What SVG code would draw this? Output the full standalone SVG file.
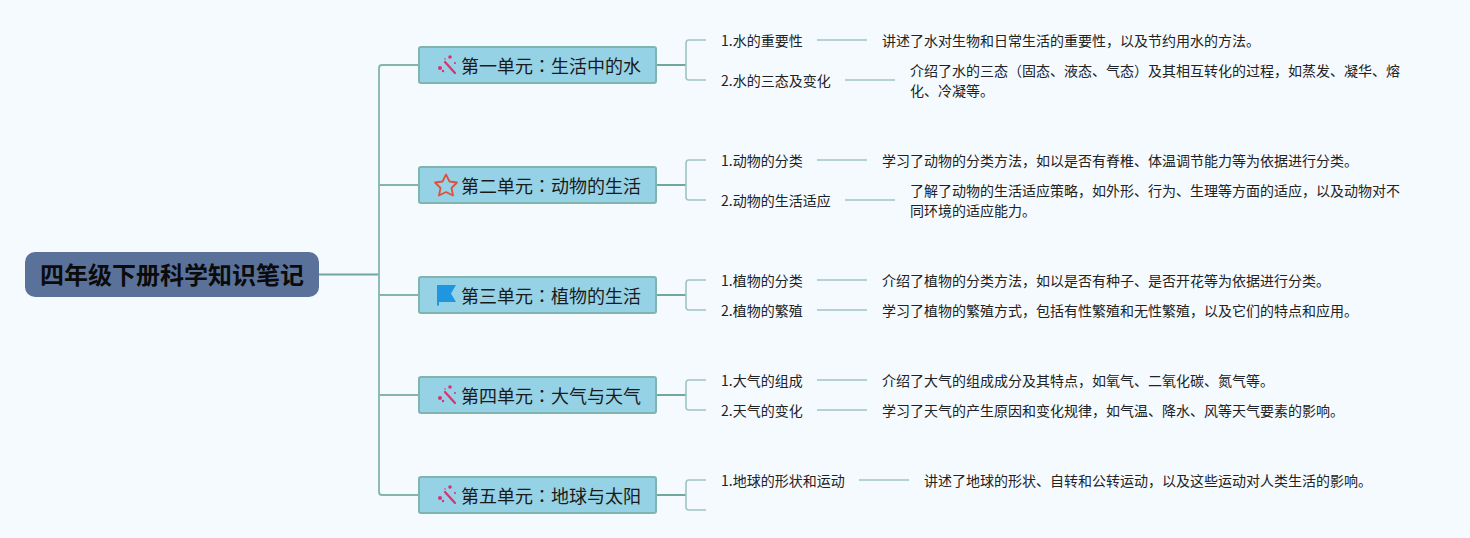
<svg xmlns="http://www.w3.org/2000/svg" width="1470" height="538" viewBox="0 0 1470 538">
<style>
text{font-family:"Noto Sans CJK SC","Noto Sans",sans-serif;fill:#111}
.root{font-size:24px;font-weight:700;fill:#0b0b0b}
.unit{font-size:18px;fill:#1a1a1a}
.colon{font-family:"Noto Sans CJK TC","Noto Sans",sans-serif}
.lab,.desc{font-size:14px;fill:#222}
.u{fill:#96d2e6;stroke:#7fb5ae;stroke-width:2}
.c{fill:none;stroke:#9ec5c0;stroke-width:1.6}
.t{fill:none;stroke:#85b5ab;stroke-width:1.800}
.m{fill:none;stroke:#6fa89c;stroke-width:2}
.w{fill:none;stroke:#d8326f;stroke-width:2.2;stroke-linecap:round}
.d{fill:#d8326f}
</style>
<defs>
<g id="wand"><path class="w" d="M-2 -3L8 8"/><circle class="d" cx="-7" cy="3" r="2"/><circle class="d" cx="-4" cy="6" r="1.2"/><circle class="d" cx="3" cy="-8" r="1.8"/><circle class="d" cx="8" cy="-2" r="1"/><circle class="d" cx="-2" cy="-6" r=".8"/></g>
</defs>
<rect width="1470" height="538" fill="#f5faff"/>
<g id="connectors">
<path class="m" d="M319 274.500H379"/>
<path class="t" d="M419 65H382Q379 65 379 68V492Q379 495 382 495H419M379 185H419M379 295H419M379 395H419"/>
<path class="m" d="M656 65H686M656 185H686M656 295H686M656 395H686M656 495H686"/>
<path class="c" d="M706 40H689Q686 40 686 43V77Q686 80 689 80H706"/>
<path class="c" d="M706 160H689Q686 160 686 163V197Q686 200 689 200H706"/>
<path class="c" d="M706 280H689Q686 280 686 283V307Q686 310 689 310H706"/>
<path class="c" d="M706 380H689Q686 380 686 383V407Q686 410 689 410H706"/>
<path class="c" d="M706 480H689Q686 480 686 483V507Q686 510 689 510H706"/>
<path class="c" d="M817 40H867M845 80H895M817 160H867M845 200H895M817 280H867M817 310H867M817 380H867M817 410H867M859 480H909"/>
</g>
<g id="root"><rect x="25" y="252" width="294" height="45" rx="10" fill="#5a7299"/><text class="root" x="40" y="284">四年级下册科学知识笔记</text></g>
<g id="unit1"><rect class="u" x="419" y="47" width="237" height="36" rx="2"/><use href="#wand" x="447" y="65"/><text class="unit" x="461" y="72.500">第一单元<tspan class="colon">：</tspan>生活中的水</text></g>
<g id="unit2"><rect class="u" x="419" y="167" width="237" height="36" rx="2"/><path d="M446 174.500L449.500 181.500L457 182.500L451.500 188L453 195.500L446 192L439 195.500L440.500 188L435 182.500L442.500 181.500Z" fill="none" stroke="#e0503c" stroke-width="1.800" stroke-linejoin="round"/><text class="unit" x="461" y="192.500">第二单元<tspan class="colon">：</tspan>动物的生活</text></g>
<g id="unit3"><rect class="u" x="419" y="277" width="237" height="36" rx="2"/><path d="M437 285H456L451 293.500L456 302H439V305.500H437Z" fill="#1e96e0"/><text class="unit" x="461" y="302.500">第三单元<tspan class="colon">：</tspan>植物的生活</text></g>
<g id="unit4"><rect class="u" x="419" y="377" width="237" height="36" rx="2"/><use href="#wand" x="447" y="395"/><text class="unit" x="461" y="402.500">第四单元<tspan class="colon">：</tspan>大气与天气</text></g>
<g id="unit5"><rect class="u" x="419" y="477" width="237" height="36" rx="2"/><use href="#wand" x="447" y="495"/><text class="unit" x="461" y="502.500">第五单元<tspan class="colon">：</tspan>地球与太阳</text></g>
<g id="leaf1-1"><text class="lab" x="721" y="46">1.水的重要性</text><text class="desc" x="882" y="46">讲述了水对生物和日常生活的重要性，以及节约用水的方法。</text></g>
<g id="leaf1-2"><text class="lab" x="721" y="86">2.水的三态及变化</text><text class="desc" x="910" y="76">介绍了水的三态（固态、液态、气态）及其相互转化的过程，如蒸发、凝华、熔</text><text class="desc" x="910" y="96">化、冷凝等。</text></g>
<g id="leaf2-1"><text class="lab" x="721" y="166">1.动物的分类</text><text class="desc" x="882" y="166">学习了动物的分类方法，如以是否有脊椎、体温调节能力等为依据进行分类。</text></g>
<g id="leaf2-2"><text class="lab" x="721" y="206">2.动物的生活适应</text><text class="desc" x="910" y="196">了解了动物的生活适应策略，如外形、行为、生理等方面的适应，以及动物对不</text><text class="desc" x="910" y="216">同环境的适应能力。</text></g>
<g id="leaf3-1"><text class="lab" x="721" y="286">1.植物的分类</text><text class="desc" x="882" y="286">介绍了植物的分类方法，如以是否有种子、是否开花等为依据进行分类。</text></g>
<g id="leaf3-2"><text class="lab" x="721" y="316">2.植物的繁殖</text><text class="desc" x="882" y="316">学习了植物的繁殖方式，包括有性繁殖和无性繁殖，以及它们的特点和应用。</text></g>
<g id="leaf4-1"><text class="lab" x="721" y="386">1.大气的组成</text><text class="desc" x="882" y="386">介绍了大气的组成成分及其特点，如氧气、二氧化碳、氮气等。</text></g>
<g id="leaf4-2"><text class="lab" x="721" y="416">2.天气的变化</text><text class="desc" x="882" y="416">学习了天气的产生原因和变化规律，如气温、降水、风等天气要素的影响。</text></g>
<g id="leaf5-1"><text class="lab" x="721" y="486">1.地球的形状和运动</text><text class="desc" x="924" y="486">讲述了地球的形状、自转和公转运动，以及这些运动对人类生活的影响。</text></g>
</svg>
